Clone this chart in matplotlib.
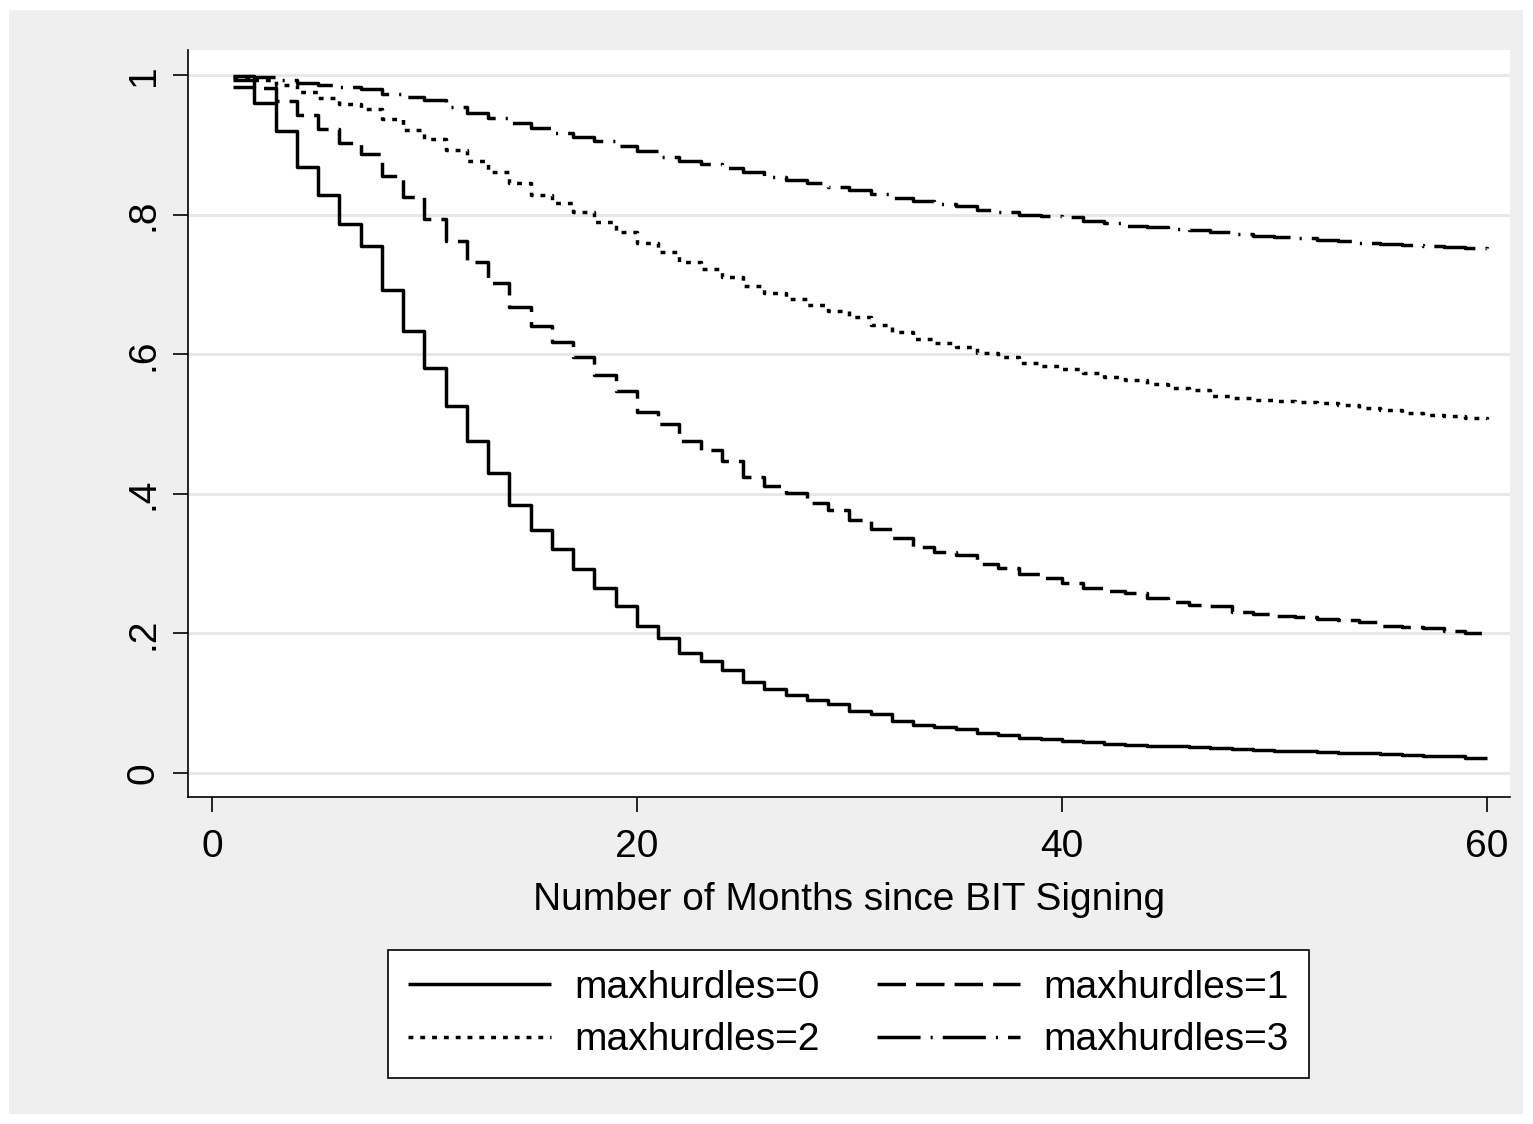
import matplotlib
matplotlib.use("Agg")

import matplotlib.pyplot as plt
from matplotlib.patches import Rectangle

# -----------------------
# DATA (survival estimate per month)
# -----------------------
months = list(range(1, 61))

surv_h0 = [0.983, 0.960, 0.920, 0.868, 0.828, 0.787, 0.755, 0.692, 0.633, 0.580,
           0.526, 0.476, 0.430, 0.384, 0.348, 0.321, 0.292, 0.265, 0.239, 0.211,
           0.193, 0.172, 0.160, 0.148, 0.130, 0.120, 0.112, 0.104, 0.099, 0.089,
           0.085, 0.075, 0.069, 0.066, 0.063, 0.057, 0.054, 0.050, 0.049, 0.046,
           0.044, 0.042, 0.040, 0.039, 0.038, 0.037, 0.036, 0.035, 0.033, 0.032,
           0.031, 0.030, 0.029, 0.028, 0.027, 0.026, 0.025, 0.024, 0.022, 0.021]

surv_h1 = [0.993, 0.981, 0.963, 0.943, 0.923, 0.903, 0.887, 0.855, 0.825, 0.794,
           0.762, 0.732, 0.702, 0.668, 0.640, 0.617, 0.596, 0.570, 0.547, 0.517,
           0.500, 0.476, 0.463, 0.447, 0.424, 0.411, 0.401, 0.387, 0.377, 0.362,
           0.350, 0.337, 0.324, 0.317, 0.312, 0.299, 0.294, 0.285, 0.279, 0.272,
           0.265, 0.261, 0.258, 0.251, 0.245, 0.241, 0.239, 0.231, 0.228, 0.225,
           0.224, 0.221, 0.219, 0.216, 0.211, 0.209, 0.208, 0.203, 0.201, 0.200]

surv_h2 = [0.998, 0.993, 0.986, 0.976, 0.967, 0.958, 0.951, 0.937, 0.921, 0.908,
           0.893, 0.877, 0.861, 0.845, 0.828, 0.817, 0.804, 0.789, 0.775, 0.759,
           0.746, 0.732, 0.722, 0.711, 0.698, 0.688, 0.679, 0.670, 0.662, 0.653,
           0.642, 0.632, 0.622, 0.616, 0.610, 0.602, 0.596, 0.587, 0.583, 0.579,
           0.573, 0.567, 0.563, 0.557, 0.552, 0.549, 0.540, 0.537, 0.534, 0.533,
           0.532, 0.530, 0.527, 0.523, 0.520, 0.516, 0.513, 0.511, 0.509, 0.507]

surv_h3 = [0.999, 0.997, 0.993, 0.989, 0.986, 0.983, 0.980, 0.973, 0.969, 0.964,
           0.954, 0.946, 0.938, 0.931, 0.924, 0.917, 0.911, 0.905, 0.898, 0.891,
           0.883, 0.877, 0.873, 0.867, 0.861, 0.854, 0.850, 0.845, 0.840, 0.835,
           0.830, 0.824, 0.819, 0.816, 0.812, 0.807, 0.804, 0.800, 0.798, 0.796,
           0.791, 0.788, 0.784, 0.782, 0.779, 0.778, 0.775, 0.772, 0.769, 0.768,
           0.766, 0.764, 0.762, 0.760, 0.758, 0.756, 0.755, 0.753, 0.752, 0.751]

labels = ["maxhurdles=0", "maxhurdles=1", "maxhurdles=2", "maxhurdles=3"]
xticks = [0, 20, 40, 60]
yticks = [0, 0.2, 0.4, 0.6, 0.8, 1.0]
ytick_labels = ["0", ".2", ".4", ".6", ".8", "1"]
xlabel = "Number of Months since BIT Signing"

# -----------------------
# STYLE
# -----------------------
plt.rcParams['font.family'] = ['Liberation Sans', 'DejaVu Sans']
fs = 28
lw = 2.5
dashes = [
    None,                       # solid
    (8.2, 2.9),                 # dashed
    (1.4, 2.0),                 # dotted
    (12.4, 2.9, 0.6, 2.9),      # long dash - dot
]

W, H = 1533, 1124
fig = plt.figure(figsize=(W / 100, H / 100), dpi=100)
fig.patch.set_facecolor("white")
fig.patches.append(Rectangle((9 / W, 10 / H), (W - 19) / W, (H - 20) / H,
                             transform=fig.transFigure, facecolor="#efefef",
                             edgecolor="none", zorder=-10))

ax = fig.add_axes([188 / W, 1 - 797 / H, (1510 - 188) / W, (797 - 50) / H])
ax.set_facecolor("white")

series = [surv_h0, surv_h1, surv_h2, surv_h3]
handles = []
for vals, lab, d in zip(series, labels, dashes):
    line, = ax.plot(months, vals, drawstyle="steps-post", color="black",
                    lw=lw, label=lab, solid_capstyle="butt", dash_capstyle="butt")
    if d is not None:
        line.set_dashes(d)
    handles.append(line)

ax.set_xlim(-1.13, 61.1)
ax.set_ylim(-0.0344, 1.036)

ax.set_xticks(xticks)
ax.set_yticks(yticks)
ax.set_yticklabels(ytick_labels, rotation=90, va="center")
ax.tick_params(axis="both", labelsize=fs, length=11, width=1.2, color="black",
               direction="out")
ax.tick_params(axis="x", pad=12)
ax.tick_params(axis="y", pad=8)

ax.yaxis.grid(True, color="#e8e8e8", lw=2.2)
ax.set_axisbelow(True)

for s in ["top", "right"]:
    ax.spines[s].set_visible(False)
for s in ["left", "bottom"]:
    ax.spines[s].set_linewidth(1.2)

ax.set_xlabel(xlabel, fontsize=fs, labelpad=12)

order = [0, 2, 1, 3]
leg = fig.legend([handles[i] for i in order], [labels[i] for i in order],
                 ncol=2, loc="center", bbox_to_anchor=(848.5 / W, 1 - 1014 / H),
                 fontsize=fs, frameon=True, fancybox=False, framealpha=1,
                 edgecolor="black", borderpad=0.5, handlelength=3.67,
                 handletextpad=0.62, columnspacing=1.46, labelspacing=0.42)
leg.get_frame().set_linewidth(1.2)

fig.savefig("out.png", dpi=100)
